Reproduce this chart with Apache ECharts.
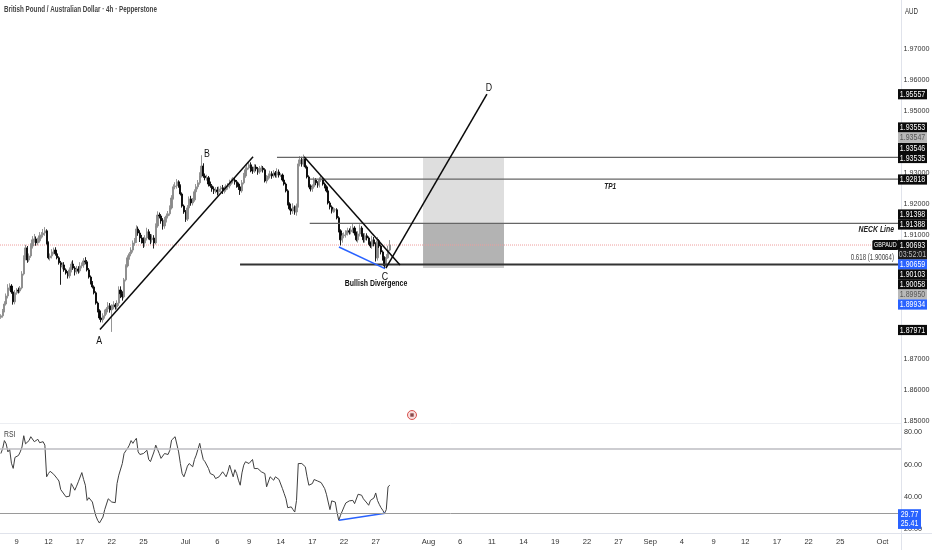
<!DOCTYPE html>
<html>
<head>
<meta charset="utf-8">
<style>html,body{margin:0;padding:0;background:#fff}#c{width:932px;height:550px}</style>
<script src="https://cdn.jsdelivr.net/npm/echarts@6/dist/echarts.min.js"></script>
</head>
<body>
<div id="c"></div>
<script>
var BAR_COUNT = 512;
var tickBars = [9,27,45,63,81,105,123,141,159,177,195,213,243,261,279,297,315,333,351,369,387,405,423,441,459,477,501];
var tickLabels = ['9','12','17','22','25','Jul','6','9','14','17','22','27','Aug','6','11','14','19','22','27','Sep','4','9','12','17','22','25','Oct'];
var coveredPriceTicks = ['1.88000','1.89000','1.90000','1.94000','1.98000'];

var closes = [
1.8841,1.8857,1.8879,1.8905,1.8931,1.8937,1.8918,1.8886,1.8915,1.8924,
1.8921,1.8931,1.8976,1.9028,1.9060,1.9021,1.9034,1.9066,1.9086,1.9089,
1.9076,1.9083,1.9099,1.9102,1.9108,1.9115,1.9076,1.9028,1.9034,1.9047,
1.9053,1.9041,1.9028,1.9012,1.8999,1.9005,1.8989,1.8979,1.8970,1.8989,
1.9008,1.8995,1.8983,1.8992,1.8986,1.9002,1.9005,1.9018,1.9015,1.8989,
1.8966,1.8947,1.8934,1.8915,1.8882,1.8857,1.8834,1.8828,1.8841,1.8853,
1.8863,1.8873,1.8860,1.8870,1.8876,1.8870,1.8882,1.8924,1.8912,1.8902,
1.8957,1.9002,1.9028,1.9041,1.9053,1.9076,1.9086,1.9121,1.9108,1.9092,
1.9086,1.9076,1.9092,1.9112,1.9099,1.9086,1.9092,1.9076,1.9131,1.9166,
1.9163,1.9147,1.9131,1.9150,1.9163,1.9170,1.9189,1.9221,1.9257,1.9260,
1.9273,1.9260,1.9234,1.9195,1.9176,1.9153,1.9189,1.9218,1.9205,1.9215,
1.9241,1.9257,1.9270,1.9292,1.9324,1.9292,1.9286,1.9286,1.9266,1.9260,
1.9250,1.9244,1.9247,1.9241,1.9250,1.9254,1.9244,1.9247,1.9257,1.9260,
1.9270,1.9276,1.9279,1.9273,1.9266,1.9257,1.9244,1.9270,1.9292,1.9312,
1.9318,1.9328,1.9312,1.9308,1.9321,1.9315,1.9305,1.9315,1.9318,1.9312,
1.9276,1.9286,1.9292,1.9299,1.9292,1.9302,1.9295,1.9305,1.9295,1.9295,
1.9279,1.9266,1.9244,1.9202,1.9186,1.9179,1.9192,1.9176,1.9195,1.9331,
1.9344,1.9331,1.9347,1.9321,1.9289,1.9260,1.9250,1.9257,1.9279,1.9270,
1.9263,1.9279,1.9283,1.9266,1.9257,1.9244,1.9205,1.9192,1.9179,1.9183,
1.9183,1.9157,1.9115,1.9086,1.9099,1.9102,1.9108,1.9115,1.9112,1.9118,
1.9124,1.9108,1.9086,1.9105,1.9124,1.9102,1.9086,1.9099,1.9092,1.9076,
1.9066,1.9086,1.9073,1.9028,1.9083,1.9066,1.9047,1.9028,1.9002,1.9028,1.9053,1.90693];

var wickUp = [
5,6,9,8,12,9,6,8,9,6,
8,6,9,8,10,6,8,9,12,16,
8,10,12,9,13,12,5,5,8,9,
8,9,6,5,6,8,9,5,6,8,
8,12,6,10,9,12,8,9,12,6,
6,5,6,5,5,5,5,5,8,8,
6,12,9,8,12,6,9,12,12,8,
6,5,8,6,9,8,6,12,8,9,
10,8,9,13,8,6,12,9,8,12,
8,6,9,10,8,9,8,9,8,12,
9,5,5,5,5,6,9,8,10,6,
8,9,9,12,35,9,8,10,6,8,
6,8,9,10,8,6,9,12,8,9,
10,8,9,8,6,5,5,9,10,8,
12,9,8,10,9,8,6,9,8,6,
5,9,8,10,8,9,6,12,8,6,
5,5,5,5,5,6,12,5,8,14,
12,10,14,6,5,5,5,8,9,6,
5,9,12,5,5,5,5,6,5,8,
5,5,5,5,9,8,9,10,8,12,
13,6,5,9,12,6,5,9,8,5,
5,13,9,5,12,5,5,5,5,12,14,16];

var wickDown = [
5,6,5,5,8,9,6,9,8,6,
8,6,5,5,8,9,6,6,8,9,
9,8,6,9,8,9,5,5,9,8,
8,6,5,6,58,8,6,5,9,8,
8,6,12,8,9,6,8,9,8,5,
5,5,5,5,5,5,6,8,9,9,
8,9,9,71,8,9,8,9,14,12,
5,5,5,6,8,8,9,10,9,13,
12,16,12,8,12,14,9,18,5,6,
8,9,12,9,8,8,6,5,5,8,
9,6,5,5,6,9,6,8,9,8,
6,5,8,6,5,6,8,9,8,6,
9,10,8,12,8,9,10,8,6,9,
8,6,8,9,12,10,13,6,5,6,
8,5,8,9,6,8,9,6,8,9,
5,8,6,8,9,6,8,9,8,6,
5,5,5,5,5,12,9,9,12,5,
8,9,9,5,5,5,8,9,6,8,
9,8,6,5,5,5,5,8,8,6,
8,5,5,18,9,8,9,8,9,8,
9,8,5,9,8,6,9,9,8,6,
6,9,8,12,9,6,8,9,8,6,3,4];

var rsiValues = [
67,70,75,73,68,69.5,61,57.8,64.6,65.4,
65.8,68,71,78,73,73,75,77.4,77.8,74.3,
75,75.8,73.7,73.3,74.3,72.2,52.6,54.6,56,56.3,
54.2,53,51.5,50,44.7,43.2,43.2,40.2,40.2,40.6,
48.4,46.4,44.3,46.8,49.5,50.5,55.2,51,47.4,38,
39.7,39.7,37,32.3,28.3,25.7,24,24.6,27.7,32.3,
33.5,39,38,37,36.4,36.6,48.4,53.6,54.6,60.8,
67,68.7,70.2,72.2,75,73.3,75,76.4,68,66.4,
66,67,68,69,63.3,62,62.5,68,72.2,72.9,
67,64,64.4,67,67.7,66.4,69,75.3,76.4,77.4,
77.8,68,60.8,54.6,52.6,55.7,59.2,60.8,60.8,58.8,
63.3,66,67,73.3,68,63.3,61.9,63,57.7,54.6,
54.6,53.6,51.5,52.6,52.6,52.1,55.7,54.2,52.6,55.7,
59.8,58.8,52.6,57,54.6,50.5,47.4,55,59.8,61.9,
61.3,60.8,61.3,63.3,57.7,56.7,57.7,57,55.7,55.2,
54.6,46.4,47.4,52.6,52.1,50.5,52.6,53.2,51,50,
45.3,42.2,39,33.5,33.5,34,32.3,30.8,38,60.8,
61.9,60.8,61.3,58.8,52.6,47.4,47.8,48.4,50.9,51.5,
50,49.5,49,48.4,45.3,41.8,37,32.3,37.7,37.5,
37,30.8,25.7,28.8,31.4,34,36.4,37,37.7,38.5,
38,36,35,41.8,42.2,41.2,39,38,36.4,35,
38,38.5,39.5,42.6,38,35.6,33.5,31.9,30,32.3,46.4,47.4];

var lastPrice = 1.90693;
var hLevels = [
  {from:157.4, price:1.9352,  color:'#666666', width:1.2},
  {from:176,   price:1.92818, color:'#666666', width:1.2},
  {from:176,   price:1.91388, color:'#666666', width:1.2},
  {from:136.4, price:1.90064, color:'#333333', width:2}
];
var trendLines = [
  {points:[[56.8,1.8797],[143.8,1.9354]], color:'#0a0a0a', width:1.5},
  {points:[[172.8,1.9354],[227.3,1.9005]], color:'#0a0a0a', width:1.5},
  {points:[[219.3,1.8995],[276.7,1.95557]], color:'#0a0a0a', width:1.5},
  {points:[[192.6,1.9063],[218.8,1.8993]], color:'#2962ff', width:1.5}
];
var rsiTrend = [[192.6,25.7],[218.8,30]];
var boxes = [
  {x0:240.4,x1:286.4,top:1.9352,bottom:1.91388,fill:'#dedede'},
  {x0:240.4,x1:286.4,top:1.91388,bottom:1.90064,fill:'#b3b3b3'},
  {x0:240.4,x1:286.4,top:1.90064,bottom:1.8995,fill:'#cdcdcd'}
];
var FONT = '"Liberation Sans",sans-serif';
var texts = [
  {t:'A',bar:56.3,p:1.87597,size:11,align:'center',c:'#111',w:'normal',s:'normal',sx:0.8},
  {t:'B',bar:117.6,p:1.93629,size:11,align:'center',c:'#111',w:'normal',s:'normal',sx:0.8},
  {t:'C',bar:218.8,p:1.89661,size:11,align:'center',c:'#111',w:'normal',s:'normal',sx:0.8},
  {t:'D',bar:277.9,p:1.95758,size:11,align:'center',c:'#111',w:'normal',s:'normal',sx:0.8},
  {t:'TP1',bar:346.7,p:1.92575,size:9,align:'center',c:'#222',w:'bold',s:'italic',sx:0.72},
  {t:'NECK Line',bar:508,p:1.91177,size:9,align:'right',c:'#222',w:'bold',s:'italic',sx:0.76},
  {t:'0.618 (1.90064)',bar:508,p:1.90284,size:8.5,align:'right',c:'#444',w:'normal',s:'normal',sx:0.72},
  {t:'Bullish Divergence',bar:213.7,p:1.89436,size:9,align:'center',c:'#111',w:'bold',s:'normal',sx:0.77}
];
var tagTexts  = ['1.95557','1.93553','1.93547','1.93546','1.93535','1.92818','1.91398','1.91388','1.90693','03:52:01','1.90659','1.90103','1.90058','1.89950','1.89934','1.87971'];
var tagLevels = [1.95557,1.94484,1.94161,1.93823,1.9350,1.92806,1.91677,1.91355,1.90693,1.90387,1.90065,1.89742,1.8942,1.89097,1.88774,1.87952];
var tagKinds  = ['k','k','g','k','k','k','k','k','k','t','b','k','k','g','b','k'];
var rsiTagTexts  = ['29.77','25.41'];
var rsiTagLevels = [29.4,23.5];
var palette = {k:['#0b0b0b','#fff'],g:['#b9b9b9','#555'],b:['#2962ff','#fff'],t:['#1c1c1c','#bbb']};

var categories = [];
for (var n = 0; n < BAR_COUNT; n++) categories.push('');
tickBars.forEach(function(b,i){categories[b]=tickLabels[i];});

var candles = closes.map(function(c,i){
  var o = i ? closes[i-1] : c - 0.0005;
  return [o, c, Math.min(o,c)-wickDown[i]/10000, Math.max(o,c)+wickUp[i]/10000];
});

function tagRender(texts_, kinds_, width) {
  return function(params, api){
    var pt = api.coord([api.value(0), api.value(1)]);
    var k = palette[kinds_ ? kinds_[params.dataIndex] : 'b'];
    return {type:'group',children:[
      {type:'rect',shape:{x:pt[0]-3,y:pt[1]-5.1,width:width,height:10.2},style:{fill:k[0]}},
      {type:'text',x:pt[0]-3+width/2,y:pt[1],scaleX:0.74,style:{text:texts_[params.dataIndex],x:0,y:0,fill:k[1],font:'9.5px '+FONT,textAlign:'center',textVerticalAlign:'middle'}}
    ]};
  };
}

var series = [];
series.push({type:'custom',xAxisIndex:1,yAxisIndex:0,z:1,silent:true,data:boxes.map(function(b){return [b.x0,b.top,b.x1,b.bottom];}),
  renderItem:function(p,api){
    var a=api.coord([api.value(0),api.value(1)]),b=api.coord([api.value(2),api.value(3)]);
    return {type:'rect',shape:{x:a[0],y:a[1],width:b[0]-a[0],height:b[1]-a[1]},style:{fill:boxes[p.dataIndex].fill}};
  },encode:{x:[0,2],y:[1,3]}});
series.push({type:'line',xAxisIndex:1,yAxisIndex:0,z:2,showSymbol:false,silent:true,data:[[0,lastPrice],[BAR_COUNT,lastPrice]],lineStyle:{color:'#ee9c9c',type:'dotted',width:1}});
series.push({type:'candlestick',xAxisIndex:0,yAxisIndex:0,z:2,barWidth:1.7,data:candles,
  itemStyle:{color:'#8a8a8a',color0:'#050505',borderColor:'#8a8a8a',borderColor0:'#050505',borderWidth:0.9}});
hLevels.forEach(function(h){
  series.push({type:'line',xAxisIndex:1,yAxisIndex:0,z:3,showSymbol:false,silent:true,data:[[h.from,h.price],[BAR_COUNT,h.price]],lineStyle:{color:h.color,width:h.width}});
});
trendLines.forEach(function(l){
  series.push({type:'line',xAxisIndex:1,yAxisIndex:0,z:4,showSymbol:false,silent:true,data:l.points,lineStyle:{color:l.color,width:l.width}});
});
series.push({type:'custom',xAxisIndex:1,yAxisIndex:0,z:5,silent:true,data:texts.map(function(t){return [t.bar,t.p];}),encode:{x:0,y:1},
  renderItem:function(p,api){
    var t=texts[p.dataIndex],pt=api.coord([api.value(0),api.value(1)]);
    return {type:'text',x:pt[0],y:pt[1],scaleX:t.sx,style:{text:t.t,x:0,y:0,fill:t.c,font:t.s+' '+t.w+' '+t.size+'px '+FONT,textAlign:t.align,textVerticalAlign:'middle'}};
  }});
series.push({type:'custom',xAxisIndex:1,yAxisIndex:0,z:6,silent:true,data:[[510.5,lastPrice]],encode:{x:0,y:1},
  renderItem:function(p,api){
    var pt=api.coord([api.value(0),api.value(1)]);
    return {type:'group',children:[
      {type:'rect',shape:{x:pt[0]-26,y:pt[1]-5,width:26,height:10,r:1.5},style:{fill:'#0b0b0b'}},
      {type:'text',x:pt[0]-13,y:pt[1],scaleX:0.68,style:{text:'GBPAUD',x:0,y:0,fill:'#fff',font:'8px '+FONT,textAlign:'center',textVerticalAlign:'middle'}}
    ]};
  }});
series.push({type:'custom',xAxisIndex:1,yAxisIndex:0,z:10,silent:true,clip:false,data:tagLevels.map(function(v){return [BAR_COUNT,v];}),encode:{x:0,y:1},renderItem:tagRender(tagTexts,tagKinds,29)});
series.push({type:'line',xAxisIndex:2,yAxisIndex:1,z:3,showSymbol:false,silent:true,data:rsiValues,lineStyle:{color:'#404040',width:1},
  markLine:{silent:true,symbol:'none',animation:false,label:{show:false},data:[
    {yAxis:70,lineStyle:{color:'#bdbdc2',width:1.5,type:'solid'}},
    {yAxis:30,lineStyle:{color:'#9a9a9a',width:1,type:'solid'}}]}});
series.push({type:'line',xAxisIndex:3,yAxisIndex:1,z:4,showSymbol:false,silent:true,data:rsiTrend,lineStyle:{color:'#2962ff',width:1.5}});
series.push({type:'custom',xAxisIndex:3,yAxisIndex:1,z:10,silent:true,clip:false,data:rsiTagLevels.map(function(v){return [BAR_COUNT,v];}),encode:{x:0,y:1},renderItem:tagRender(rsiTagTexts,null,23)});

var axisFont = {fontFamily:FONT,fontSize:7.2,color:'#333'};
function headerText(text,x,y,sx,weight,color){
  return {type:'text',z:20,x:x,y:y,scaleX:sx,style:{text:text,x:0,y:0,fill:color,font:weight+' 9.5px '+FONT,textVerticalAlign:'middle'}};
}
var chart = echarts.init(document.getElementById('c'),null,{renderer:'canvas'});
chart.setOption({
  animation:false,
  backgroundColor:'#fff',
  grid:[
    {left:0,top:18.5,width:901,height:403,outerBoundsMode:'none'},
    {left:0,top:432.5,width:901,height:97,outerBoundsMode:'none'}
  ],
  xAxis:[
    {type:'category',gridIndex:0,data:categories,boundaryGap:true,show:false},
    {type:'value',gridIndex:0,min:0,max:BAR_COUNT,show:false},
    {type:'category',gridIndex:1,data:categories,boundaryGap:true,axisLine:{show:false},axisTick:{show:false},splitLine:{show:false},
      axisLabel:Object.assign({interval:0,margin:8,hideOverlap:false},axisFont,{fontSize:7.6})},
    {type:'value',gridIndex:1,min:0,max:BAR_COUNT,show:false}
  ],
  yAxis:[
    {type:'value',gridIndex:0,position:'right',min:1.85,max:1.98,interval:0.01,splitLine:{show:false},axisLine:{show:false},axisTick:{show:false},
      axisLabel:Object.assign({margin:2.5,formatter:function(v){var s=v.toFixed(5);return coveredPriceTicks.indexOf(s)>=0?'':s;}},axisFont)},
    {type:'value',gridIndex:1,position:'right',min:20,max:80,interval:20,splitLine:{show:false},axisLine:{show:false},axisTick:{show:false},
      axisLabel:Object.assign({margin:3,formatter:function(v){return v.toFixed(2);}},axisFont)}
  ],
  graphic:[
    {type:'line',z:0,shape:{x1:901.5,y1:0,x2:901.5,y2:550},style:{stroke:'#e0e3eb',lineWidth:1}},
    {type:'line',z:0,shape:{x1:0,y1:423.5,x2:901,y2:423.5},style:{stroke:'#eceef2',lineWidth:1}},
    {type:'line',z:0,shape:{x1:0,y1:533.5,x2:932,y2:533.5},style:{stroke:'#e0e3eb',lineWidth:1}},
    {type:'circle',z:20,shape:{cx:412,cy:415,r:4.5},style:{fill:'#f7dede',stroke:'#d9534f',lineWidth:1}},
    {type:'rect',z:21,shape:{x:410.3,y:413.3,width:3.4,height:3.4},style:{fill:'#8a4a4a'}},
    headerText('British Pound / Australian Dollar · 4h · Pepperstone',4,9,0.66,'bold','#444'),
    headerText('RSI',4,434.5,0.72,'normal','#444'),
    headerText('AUD',905,11,0.65,'normal','#333')
  ],
  series:series
});
</script>
</body>
</html>
